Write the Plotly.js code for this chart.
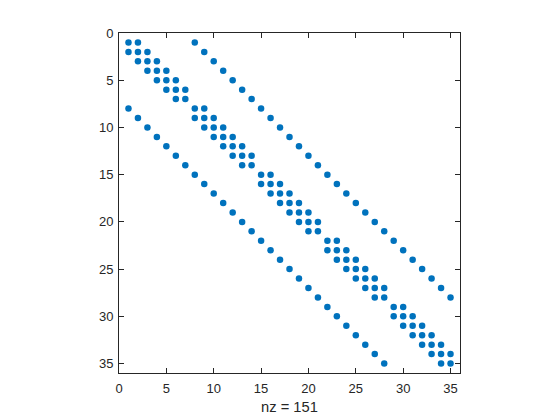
<!DOCTYPE html>
<html>
<head>
<meta charset="utf-8">
<script src="https://cdn.plot.ly/plotly-3.0.1.min.js"></script>
<style>html,body{margin:0;padding:0;background:#fff;}#chart{width:560px;height:420px;}</style>
</head>
<body>
<div id="chart"></div>
<script>
// Nonzero columns for each row 1..35
const colsByRow = [
  [1,2,8],
  [1,2,3,9],
  [2,3,4,10],
  [3,4,5,11],
  [4,5,6,12],
  [5,6,7,13],
  [6,7,14],
  [1,8,9,15],
  [2,8,9,10,16],
  [3,9,10,11,17],
  [4,10,11,12,18],
  [5,11,12,13,19],
  [6,12,13,14,20],
  [7,13,14,21],
  [8,15,16,22],
  [9,15,16,17,23],
  [10,16,17,18,24],
  [11,17,18,19,25],
  [12,18,19,20,26],
  [13,19,20,21,27],
  [14,20,21,28],
  [15,22,23,29],
  [16,22,23,24,30],
  [17,23,24,25,31],
  [18,24,25,26,32],
  [19,25,26,27,33],
  [20,26,27,28,34],
  [21,27,28,35],
  [22,29,30],
  [23,29,30,31],
  [24,30,31,32],
  [25,31,32,33],
  [26,32,33,34],
  [27,33,34,35],
  [28,34,35]
];
const tickVals = [0,5,10,15,20,25,30,35];
const xLabel = "nz = 151";

const xs = [], ys = [];
colsByRow.forEach((cols, i) => {
  cols.forEach(c => { xs.push(c); ys.push(i + 1); });
});

const axisCommon = {
  showgrid: false,
  zeroline: false,
  showline: true,
  linecolor: '#262626',
  linewidth: 1,
  mirror: 'ticks',
  ticks: 'inside',
  ticklen: 5,
  tickcolor: '#262626',
  tickwidth: 1,
  tickvals: tickVals,
  tickfont: {family: 'Liberation Sans, Arial, sans-serif', size: 13, color: '#262626'}
};

const trace = {
  type: 'scatter',
  mode: 'markers',
  x: xs,
  y: ys,
  marker: {color: '#0072BD', size: 6.5, line: {width: 0}},
  hoverinfo: 'x+y'
};

const layout = {
  width: 560,
  height: 420,
  paper_bgcolor: '#ffffff',
  plot_bgcolor: '#ffffff',
  showlegend: false,
  margin: {l: 119, r: 100, t: 33, b: 47, pad: 0},
  xaxis: Object.assign({}, axisCommon, {
    range: [0, 36],
    ticklabelstandoff: 3,
    title: {text: xLabel, font: {family: 'Liberation Sans, Arial, sans-serif', size: 14.7, color: '#262626'}, standoff: 7}
  }),
  yaxis: Object.assign({}, axisCommon, {
    range: [36, 0],
    ticklabelstandoff: 2
  })
};

Plotly.newPlot('chart', [trace], layout, {displayModeBar: false, staticPlot: true});
</script>
</body>
</html>
